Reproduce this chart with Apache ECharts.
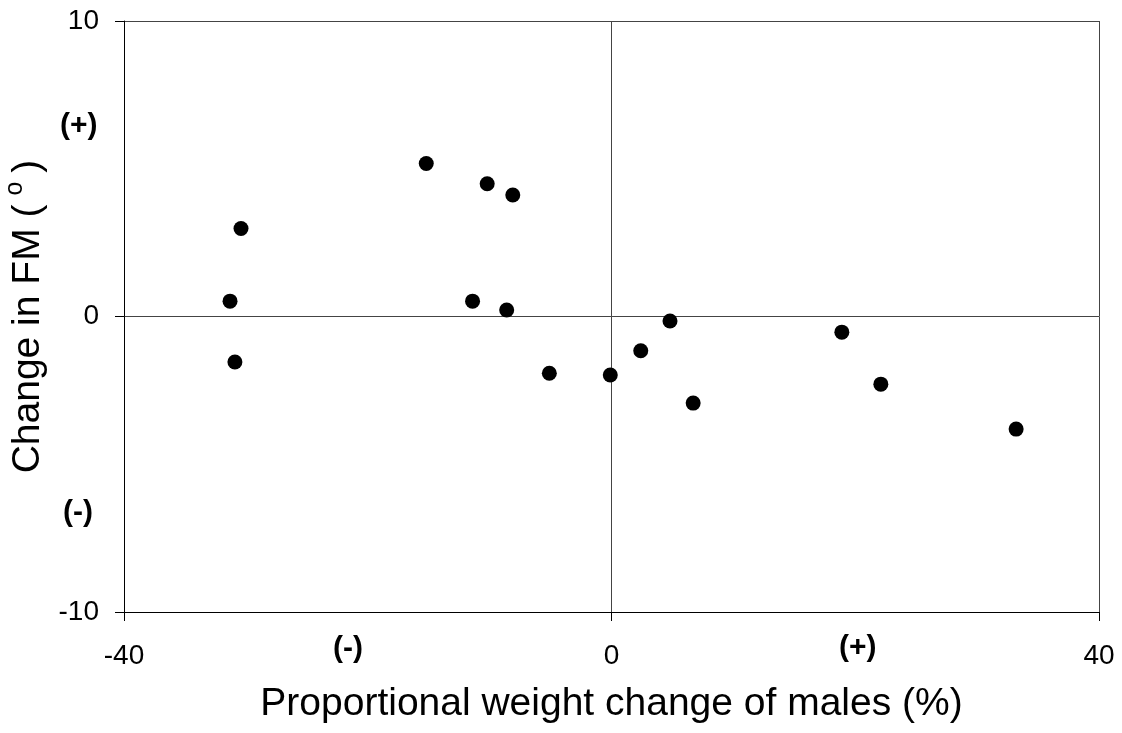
<!DOCTYPE html>
<html>
<head>
<meta charset="utf-8">
<script src="https://cdn.jsdelivr.net/npm/echarts@6/dist/echarts.min.js"></script>
<style>html,body{margin:0;padding:0;background:#fff}#c{width:1122px;height:733px}</style>
</head>
<body>
<div id="c"></div>
<script>
// Proportional weight change of males (%)
var weightChange = [-30.4, -31.3, -30.9, -15.2, -10.2, -8.1, -11.4, -8.6, -5.1, -0.1, 2.4, 4.8, 6.7, 18.9, 22.1, 33.2];
// Change in FM (degrees)
var fmChange = [2.98, 0.52, -1.54, 5.18, 4.49, 4.11, 0.52, 0.22, -1.92, -1.98, -1.16, -0.15, -2.93, -0.53, -2.29, -3.81];
var xTicks = [-40, 0, 40];
var yTicks = [-10, 0, 10];

var points = weightChange.map(function (x, i) { return [x, fmChange[i]]; });
var chart = echarts.init(document.getElementById('c'), null, {renderer: 'canvas'});
var font = 'Arial, "Liberation Sans", sans-serif';
chart.setOption({
  animation: false,
  backgroundColor: '#fff',
  grid: {left: 124, right: 23, top: 21, bottom: 121, containLabel: false, outerBoundsMode: 'none'},
  xAxis: {
    type: 'value', min: xTicks[0], max: xTicks[xTicks.length - 1], interval: xTicks[1] - xTicks[0],
    name: 'Proportional weight change of males (%)', nameLocation: 'middle', nameGap: 73,
    nameTextStyle: {fontFamily: font, fontSize: 39, color: '#000'},
    axisLine: {onZero: false, lineStyle: {color: '#000', width: 1}},
    axisTick: {show: true, inside: false, length: 9, lineStyle: {color: '#000'}},
    axisLabel: {margin: 30, fontFamily: font, fontSize: 28, color: '#000'},
    splitLine: {show: true, lineStyle: {color: '#444', width: 1}}
  },
  yAxis: {
    type: 'value', min: yTicks[0], max: yTicks[yTicks.length - 1], interval: yTicks[1] - yTicks[0],
    name: '{t|Change in FM (}{s|o}{t|)}', nameLocation: 'middle', nameGap: 69,
    nameTextStyle: {fontFamily: font, fontSize: 39, color: '#000',
      rich: {t: {fontFamily: font, fontSize: 39, color: '#000'},
             s: {fontFamily: font, fontSize: 25, color: '#000', padding: [0, 9, 26, 9]}}},
    axisLine: {onZero: false, lineStyle: {color: '#000', width: 1}},
    axisTick: {show: true, inside: false, length: 9, lineStyle: {color: '#000'}},
    axisLabel: {margin: 25, fontFamily: font, fontSize: 28, color: '#000'},
    splitLine: {show: true, lineStyle: {color: '#444', width: 1}}
  },
  graphic: [
    {type: 'text', left: 60, top: 111, style: {text: '(+)', fontFamily: font, fontSize: 30, fontWeight: 'bold', fill: '#000'}},
    {type: 'text', left: 63, top: 498, style: {text: '(-)', fontFamily: font, fontSize: 30, fontWeight: 'bold', fill: '#000'}},
    {type: 'text', left: 333, top: 634, style: {text: '(-)', fontFamily: font, fontSize: 30, fontWeight: 'bold', fill: '#000'}},
    {type: 'text', left: 839, top: 633, style: {text: '(+)', fontFamily: font, fontSize: 30, fontWeight: 'bold', fill: '#000'}}
  ],
  series: [{
    type: 'scatter', data: points, symbol: 'circle', symbolSize: 15,
    itemStyle: {color: '#000', opacity: 1}, silent: true
  }]
});
</script>
</body>
</html>
